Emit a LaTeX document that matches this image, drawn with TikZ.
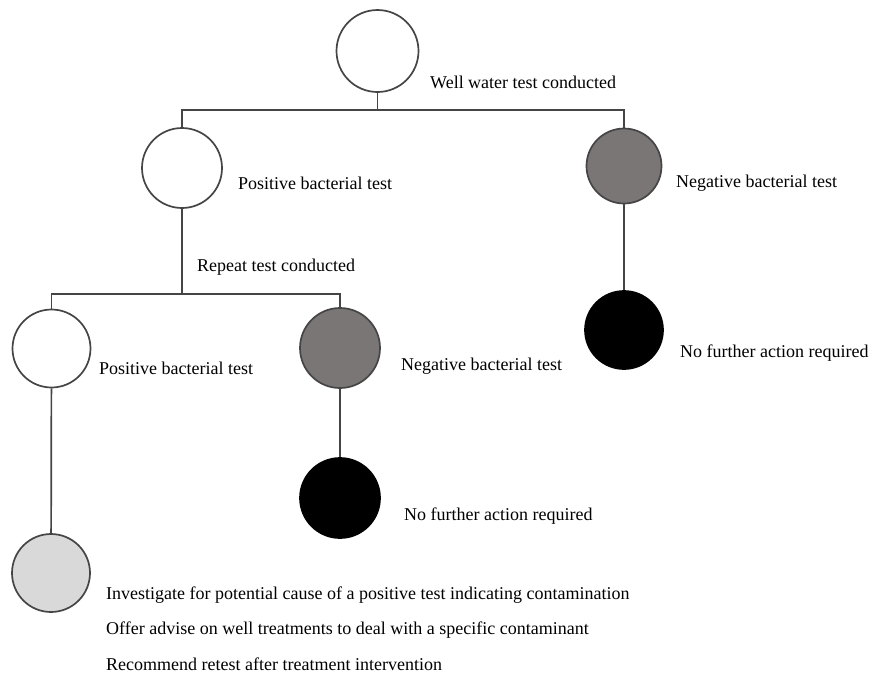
\documentclass[tikz,border=0pt]{standalone}
\usepackage{fontspec}
\setmainfont{Liberation Serif}
\definecolor{edgegray}{HTML}{454545}
\definecolor{midgray}{HTML}{7A7676}
\definecolor{lightgray}{HTML}{D9D9D9}
\begin{document}
\begin{tikzpicture}[x=1pt,y=-1pt,
  state/.style={circle,draw=edgegray,line width=1.7pt,inner sep=0pt},
  open/.style={state,fill=white},
  neg/.style={state,fill=midgray},
  done/.style={state,fill=black,draw=black},
  pending/.style={state,fill=lightgray},
  link/.style={draw=edgegray,line width=1.7pt},
  lbl/.style={anchor=west,inner sep=0pt,font=\fontsize{18}{21}\selectfont}]
\useasboundingbox (0,0) rectangle (869,675);

% decision circles
\node[open,minimum size=82pt]    (root) at (377.5,51)  {};
\node[open,minimum size=80pt]    (pos1) at (182,168)   {};
\node[neg,minimum size=75pt]     (neg1) at (624,166)   {};
\node[done,minimum size=78pt]    (end1) at (624,330)   {};
\node[open,minimum size=78pt]    (pos2) at (51.5,348.5) {};
\node[neg,minimum size=80pt]     (neg2) at (340,348)   {};
\node[done,minimum size=80pt]    (end2) at (340,498)   {};
\node[pending,minimum size=78pt] (act)  at (51,573)    {};

% branching buses
\coordinate (bus1) at (0,110);
\coordinate (bus2) at (0,294);

\draw[link] (root.south) -- (root.south |- bus1);
\draw[link] (pos1.north) -- (pos1.north |- bus1) -- (neg1.north |- bus1) -- (neg1.north);
\draw[link] (pos1.south) -- (pos1.south |- bus2);
\draw[link] (pos2.north) -- (pos2.north |- bus2) -- (neg2.north |- bus2) -- (neg2.north);
\draw[link] (neg1) -- (end1);
\draw[link] (neg2) -- (end2);
\draw[link] (pos2) -- (act);

% labels
\node[lbl] (t0) at (430,82)  {Well water test conducted};
\node[lbl] (t1) at (238,183) {Positive bacterial test};
\node[lbl] (t2) at (676,183) {Negative bacterial test};
\node[lbl] (t3) at (197,267) {Repeat test conducted};
\node[lbl] (t4) at (99,368)  {Positive bacterial test};
\node[lbl] (t5) at (401,366) {Negative bacterial test};
\node[lbl] (t6) at (680,353) {No further action required};
\node[lbl] (t7) at (404,516) {No further action required};
\node[lbl] (t8) at (106,595) {Investigate for potential cause of a positive test indicating contamination};
\node[lbl] (t9) at (106,630) {Offer advise on well treatments to deal with a specific contaminant};
\node[lbl] (t10) at (106,664) {Recommend retest after treatment intervention};
\end{tikzpicture}
\end{document}
